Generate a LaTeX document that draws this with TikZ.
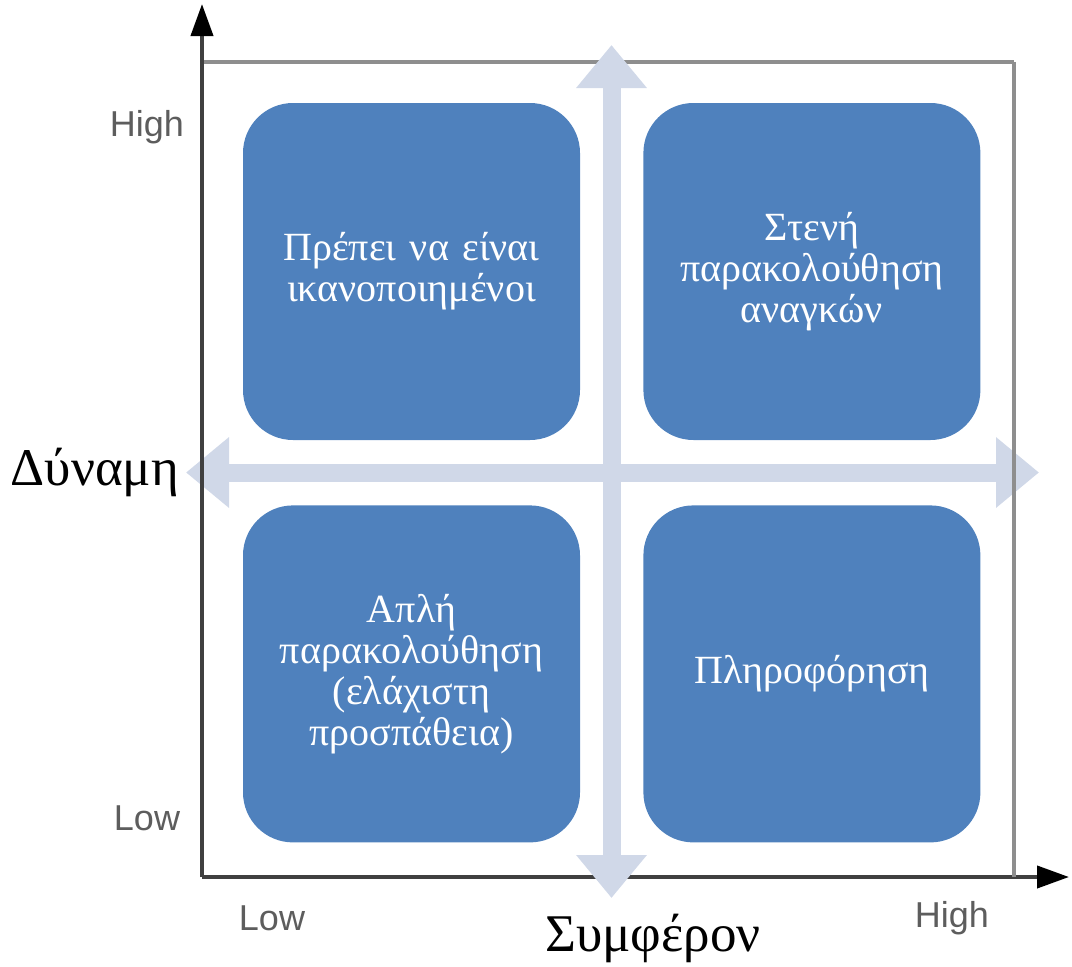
\documentclass[tikz,border=0pt]{standalone}
\usepackage{fontspec}
\setmainfont{Liberation Serif}
\setsansfont{Liberation Sans}
\usetikzlibrary{arrows.meta, positioning}
\definecolor{MyBlue}{HTML}{4F81BD}
\definecolor{MyLilac}{HTML}{D0D8E8}
\definecolor{MyFrame}{HTML}{8E8E8E}
\definecolor{MyAxis}{HTML}{404040}

\begin{document}
\begin{tikzpicture}[x=1pt, y=-1pt,
			quad/.style={draw=none, fill=MyBlue, rounded corners=50pt, minimum width=337pt, minimum height=337pt, text width=310pt, align=center, text=white, font=\fontsize{40}{41}\selectfont},
			level/.style={text=MyAxis!85, font=\sffamily\fontsize{36}{38}\selectfont},
			title/.style={font=\fontsize{53}{56}\selectfont},
			bigarrow/.style={MyLilac, line width=18pt, {Triangle[width=68pt,length=43pt]}-{Triangle[width=68pt,length=43pt]}},
			axis/.style={MyAxis, line width=4pt, -{Triangle[width=22pt,length=32pt,color=black]}},
			frame/.style={MyFrame, line width=4pt}
		]
			\useasboundingbox (0,0) rectangle (1072,967);

			% corners of the grid
			\coordinate (origin) at (202,877);
			\coordinate (ytip) at (202,4);
			\coordinate (xtip) at (1069,877);
			\coordinate (topleft) at (202,62);
			\coordinate (topright) at (1014,62);
			\coordinate (botright) at (1014,877);

			\draw[frame] (topleft) -- (topright);
			\draw[axis] (origin) -- (xtip);

			\node (keep) [quad] at (411.5,271.5) {Πρέπει να είναι\\ικανοποιημένοι};
			\node (manage) [quad, right=63pt of keep] {Στενή\\παρακολούθηση\\αναγκών};
			\node (monitor) [quad, below=65pt of keep] {Απλή\\παρακολούθηση\\(ελάχιστη\\προσπάθεια)};
			\node (inform) [quad, below=65pt of manage] {Πληροφόρηση};

			\coordinate (vtop) at (611.5,45);
			\coordinate (vbot) at (611.5,898);
			\coordinate (hleft) at (186,472.5);
			\coordinate (hright) at (1039,472.5);
			\draw[bigarrow] (vbot) -- (vtop);
			\draw[bigarrow] (hleft) -- (hright);

			\draw[frame] (topright) -- (botright);
			\draw[axis] (origin) -- (ytip);

			\node (yhigh) [level] at (147,127) {High};
			\node (ylow) [level] at (147,818) {Low};
			\node (xlow) [level] at (272,918) {Low};
			\node (xhigh) [level] at (952,918) {High};

			\node (power) [title] at (95,472) {Δύναμη};
			\node (interest) [title] at (653,938) {Συμφέρον};
		\end{tikzpicture}
\end{document}
